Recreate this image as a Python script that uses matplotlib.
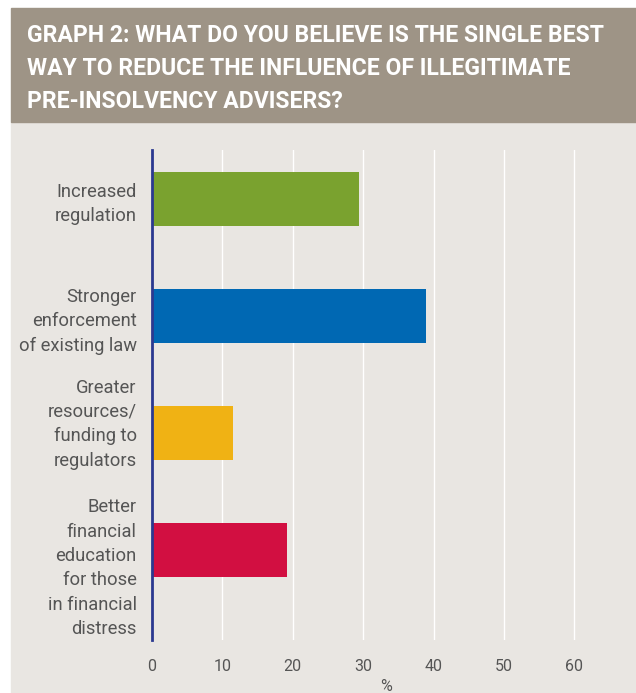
import matplotlib.pyplot as plt
from matplotlib.transforms import ScaledTranslation

categories = ["Increased\nregulation",
              "Stronger\nenforcement\nof existing law",
              "Greater\nresources/\nfunding to\nregulators",
              "Better\nfinancial\neducation\nfor those\nin financial\ndistress"]
values = [29.4, 39.0, 11.5, 19.2]
colors = ["#7aa22f", "#0068b3", "#f0b214", "#d20f41"]
xticks = [0, 10, 20, 30, 40, 50, 60]

title = ("GRAPH 2: WHAT DO YOU BELIEVE IS THE SINGLE BEST\n"
         "WAY TO REDUCE THE INFLUENCE OF ILLEGITIMATE\n"
         "PRE-INSOLVENCY ADVISERS?")

body_font = "Roboto"

W, H = 636, 693
fig = plt.figure(figsize=(W / 100, H / 100), dpi=100)
fig.patch.set_facecolor("white")

# panel backgrounds
fig.patches.append(plt.Rectangle((11 / W, 0), 1 - 11 / W, 1 - 122 / H,
                                 transform=fig.transFigure, color="#e9e6e2", zorder=-5))
fig.patches.append(plt.Rectangle((11 / W, 1 - 122 / H), 1 - 11 / W, 114 / H,
                                 transform=fig.transFigure, color="#9e9486", zorder=-5))
fig.text(27 / W, 1 - 24 / H, title, color="white", fontsize=16.6, fontweight="bold",
         family=body_font, va="top", ha="left", linespacing=1.55)

ax = fig.add_axes([152 / W, 1 - 640 / H, (620 - 152) / W, (640 - 150) / H])
ax.set_facecolor("none")
ypos = list(range(len(values)))
ax.barh(ypos, values, height=0.46, color=colors, zorder=3)
ax.set_ylim(3.77, -0.42)
ax.set_xlim(0, 66.5)

ax.set_xticks(xticks)
ax.set_xticklabels([str(t) for t in xticks], family=body_font, fontsize=11.5, color="#555555")
ax.tick_params(axis="x", length=0, pad=14)
ax.set_yticks(ypos)
ax.set_yticklabels(categories, family=body_font, fontsize=13.2, color="#555555",
                   linespacing=1.45)
ax.tick_params(axis="y", length=0, pad=11)
ax.set_xlabel("%", family=body_font, fontsize=11.5, color="#555555", labelpad=3)

# the two long labels sit a bit off their bar centres in the original
shifts = [0, 0, 0.14, -0.13]
for lab, dy in zip(ax.get_yticklabels(), shifts):
    lab.set_transform(lab.get_transform() + ScaledTranslation(0, dy, fig.dpi_scale_trans))

for x in xticks[1:]:
    ax.axvline(x, color="white", lw=1, zorder=1)
for s in ["top", "right", "bottom"]:
    ax.spines[s].set_visible(False)
ax.spines["left"].set_color("#2b3990")
ax.spines["left"].set_linewidth(2)
ax.spines["left"].set_zorder(4)

fig.savefig("out.png", dpi=100)
